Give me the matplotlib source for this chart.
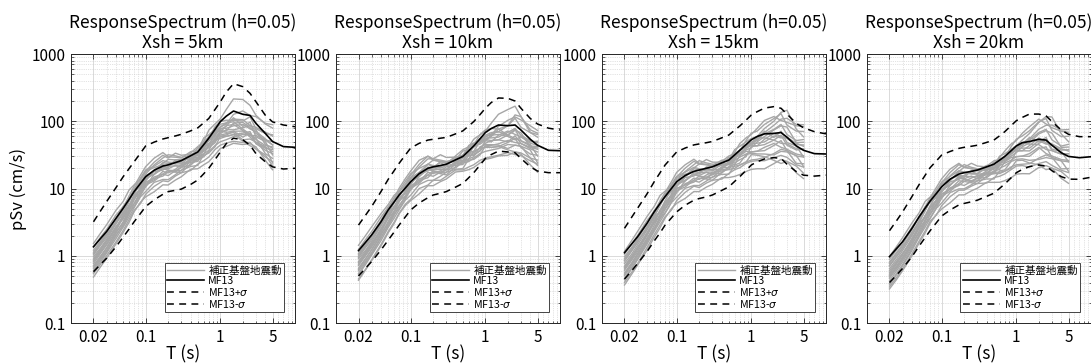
import matplotlib
matplotlib.use("Agg")
import matplotlib.pyplot as plt
from matplotlib.ticker import LogLocator, FixedLocator, FixedFormatter, NullFormatter
from matplotlib.lines import Line2D
import numpy as np

plt.rcParams['font.family'] = ['Noto Sans CJK JP', 'DejaVu Sans']
plt.rcParams['mathtext.fontset'] = 'dejavusans'

# ---------------- data ----------------
PERIODS = [0.02, 0.025, 0.03, 0.04, 0.05, 0.06, 0.07, 0.085, 0.1, 0.13, 0.17, 0.2,
           0.25, 0.3, 0.4, 0.5, 0.6, 0.7, 0.85, 1.0, 1.2, 1.5, 2.0, 2.5, 3.0, 4.0,
           5.0, 7.0, 10.0]
N_RECORD_PERIODS = 27  # records are given from 0.02 s to 5 s

TITLE_MAIN = "ResponseSpectrum (h=0.05)"
DISTANCES = ["Xsh = 5km", "Xsh = 10km", "Xsh = 15km", "Xsh = 20km"]

X_TICKS = [0.02, 0.1, 1, 5]
X_TICK_LABELS = ["0.02", "0.1", "1", "5"]
Y_TICKS = [0.1, 1, 10, 100, 1000]
Y_TICK_LABELS = ["0.1", "1", "10", "100", "1000"]

LEGEND_LABELS = ["補正基盤地震動", "MF13", "MF13+$\\sigma$", "MF13-$\\sigma$"]

# MF13 mean and +/- sigma (pSv, cm/s)
MEAN_5 = [1.36, 1.82, 2.3, 3.6, 5.1, 6.9, 9, 11.9, 15, 18.7, 21.6, 22.5, 24.3, 26, 30.7,
          35, 45, 56, 76, 99, 119, 142, 127, 122, 93, 66, 50, 42, 41]
PLUS_5 = [3.2, 4.7, 6.4, 10.3, 15, 19.8, 25, 33.5, 43, 49, 54.5, 57, 60.5, 64, 72, 80,
          95, 110, 150, 195, 272, 362, 327, 260, 195, 123, 98, 88, 83]
MINUS_5 = [0.58, 0.75, 0.92, 1.36, 1.9, 2.5, 3.2, 4.25, 5.4, 6.8, 8.2, 9.0, 9.4, 9.8,
           11.5, 13.4, 16.6, 20, 27, 35, 46.5, 56, 53, 44, 33, 25, 21, 19.5, 20]

MEAN_10 = [1.19, 1.6, 2.04, 3.2, 4.8, 6.3, 8.0, 10.2, 12.6, 16.6, 20, 21, 22, 23, 26.7,
           30, 36.4, 43, 55, 68, 78, 88, 86, 88, 74, 54, 44, 37, 36.5]
PLUS_10 = [2.86, 4.05, 5.4, 9.0, 13.7, 18.4, 23.7, 31.6, 40, 47, 52.5, 54, 56, 57.5, 65,
           72, 85.5, 99, 126, 156, 190, 222, 219, 200, 156, 110, 91, 79, 74]
MINUS_10 = [0.5, 0.66, 0.82, 1.22, 1.71, 2.25, 2.86, 3.8, 4.8, 6.1, 7.3, 8.0, 8.5, 9.0,
            10.5, 11.9, 14.5, 17.2, 22.4, 28, 32, 36, 35, 34, 28, 21, 18.2, 17.2, 17.2]

MEAN_15 = [1.11, 1.5, 1.92, 3.03, 4.5, 6.0, 7.6, 10, 12.6, 15.6, 18, 18.8, 20, 21, 24,
           26.5, 31.7, 37, 45, 53, 59.5, 65, 66, 68, 58, 43, 37, 33, 32.6]
PLUS_15 = [2.56, 3.75, 5.1, 8.3, 12.6, 17.2, 22.4, 28.5, 35, 40, 44.5, 46, 48, 50, 56.6,
           62.5, 74, 85, 104, 124, 139, 157, 165, 156, 128, 93, 80, 70, 65]
MINUS_15 = [0.45, 0.6, 0.77, 1.15, 1.66, 2.2, 2.86, 3.65, 4.5, 5.65, 6.7, 7.1, 7.5, 8.0,
            9.35, 10.6, 12.8, 15, 18.6, 22.4, 25, 27.5, 28.8, 28, 23, 17.8, 15.8, 15.3, 15.8]

MEAN_20 = [0.97, 1.29, 1.62, 2.56, 3.8, 5.1, 6.5, 8.45, 10.6, 13.8, 16.4, 17.2, 18, 18.8,
           21, 23, 26.5, 30, 36.4, 43, 48, 50, 54, 52.5, 44, 34, 30, 28.7, 29.7]
PLUS_20 = [2.36, 3.35, 4.5, 7.6, 11.5, 15.7, 20.4, 25.8, 31.5, 35.6, 39.5, 41, 42.5, 44,
           48.5, 52.5, 61, 70, 86, 102, 114, 128, 128, 120, 99, 74, 64, 59, 59]
MINUS_20 = [0.40, 0.52, 0.65, 0.97, 1.4, 1.86, 2.36, 3.1, 3.9, 4.8, 5.7, 6.0, 6.35, 6.7,
            7.65, 8.5, 10.1, 11.7, 14.4, 17.2, 19.2, 21.2, 22.4, 21.6, 18.4, 15, 13.8, 13.7, 14.7]

# corrected bedrock records: deviation from MF13 in hundredths of log10 units
REC_DEV_5 = [
    [-40,-38,-36,-35,-33,-30,-28,-30,-26,-24,-22,-25,-20,-18,-22,-18,-24,-28,-30,-35,-40,-45,-42,-40,-38,-35,-30],
    [-30,-28,-25,-22,-20,-15,-18,-12,-10,-14,-8,-12,-10,-6,-10,-14,-8,-12,-18,-22,-28,-30,-25,-32,-28,-20,-15],
    [-20,-18,-15,-12,-16,-10,-6,-8,-4,0,5,2,-2,-5,0,-4,-8,-2,-6,-10,-18,-22,-15,-20,-12,-8,-5],
    [-10,-8,-6,-4,-2,5,8,12,15,18,20,12,8,4,6,2,10,5,0,-4,-10,-12,-8,-15,-6,2,8],
    [5,8,10,12,10,14,10,6,8,4,2,-2,-5,-8,-4,0,5,12,8,4,10,18,22,15,12,14,20],
    [-25,-22,-20,-18,-14,-16,-10,-14,-8,-12,-15,-10,-14,-18,-12,-8,-14,-10,-15,-25,-30,-35,-28,-24,-30,-25,-18],
    [-35,-32,-30,-26,-24,-20,-22,-18,-15,-10,-12,-16,-12,-15,-8,-12,-18,-20,-24,-30,-35,-38,-30,-28,-22,-30,-25],
    [-15,-14,-12,-8,-6,-10,-4,0,4,8,12,15,10,5,0,-5,-2,-8,-12,-18,-20,-28,-20,-15,-10,-16,-10],
    [-45,-42,-40,-38,-36,-34,-30,-28,-30,-32,-28,-30,-26,-24,-20,-25,-30,-35,-38,-40,-45,-48,-45,-42,-35,-40,-42],
    [-5,-4,-2,0,3,0,4,8,10,6,8,4,0,-2,4,8,4,2,-4,-8,-12,-5,5,0,10,15,25],
    [-28,-26,-24,-20,-22,-18,-12,-8,-14,-6,-2,-6,-4,-10,-6,-2,-10,-14,-20,-14,-22,-18,-12,-18,-15,-10,-5],
    [-18,-16,-14,-16,-12,-8,-12,-6,-2,-6,0,-4,4,2,-2,6,0,-4,-8,-12,-15,-10,-18,-10,-20,-12,-20],
    [-12,-10,-9,-6,-8,-3,0,-4,2,-2,4,8,4,0,-4,-8,-4,-10,-6,-14,-24,-30,-34,-26,-30,-22,-12],
    [-38,-35,-32,-30,-28,-26,-24,-20,-22,-18,-20,-22,-18,-14,-16,-20,-14,-18,-14,-20,-26,-32,-38,-35,-28,-20,-32],
    [-22,-20,-18,-14,-10,-12,-8,-10,-6,-2,-6,-2,2,-4,-8,-4,2,0,-2,-8,-10,-16,-22,-28,-24,-18,-8],
    [0,2,3,5,2,4,0,-4,-2,-6,-4,-8,-12,-10,-6,-10,-4,0,4,0,-6,-14,-10,-2,-8,0,10],
    [-32,-30,-28,-25,-26,-22,-18,-16,-12,-16,-12,-8,-14,-10,-14,-10,-16,-22,-26,-22,-30,-35,-40,-45,-38,-32,-36],
    [-8,-6,-4,-8,-6,-2,2,4,8,12,16,10,14,8,2,0,-6,-2,-10,-16,-14,-20,-24,-30,-18,-10,0],
]
REC_DEV_10 = [
    [-42,-40,-37,-34,-32,-30,-27,-24,-26,-22,-25,-20,-22,-18,-15,-20,-24,-28,-32,-38,-42,-45,-40,-44,-38,-32,-28],
    [-28,-25,-22,-20,-17,-14,-16,-12,-8,-12,-6,-10,-8,-4,-8,-12,-6,-14,-18,-20,-25,-28,-22,-26,-20,-14,-10],
    [-18,-16,-14,-10,-12,-8,-4,-6,-2,2,6,0,-4,-2,2,-2,-6,0,-4,-8,-14,-18,-10,-5,-8,-2,4],
    [-8,-6,-4,-2,0,6,10,14,16,20,18,10,6,2,4,0,8,4,-2,-6,-8,-10,0,15,20,10,12],
    [8,10,12,12,8,10,6,4,6,2,0,-4,-6,-8,-2,2,6,10,6,2,8,16,24,28,20,14,18],
    [-22,-20,-18,-16,-12,-14,-8,-12,-6,-10,-14,-8,-12,-16,-10,-6,-12,-8,-14,-22,-28,-32,-25,-20,-26,-22,-15],
    [-34,-30,-28,-24,-22,-18,-20,-16,-12,-8,-10,-14,-10,-12,-6,-10,-16,-18,-22,-28,-32,-35,-28,-30,-24,-28,-22],
    [-12,-12,-10,-6,-4,-8,-2,2,6,10,14,12,8,4,-2,-6,-4,-10,-14,-16,-18,-22,-14,-8,-4,-12,-6],
    [-44,-41,-38,-36,-34,-32,-28,-26,-28,-30,-26,-28,-24,-22,-18,-22,-28,-32,-36,-40,-44,-46,-44,-40,-36,-38,-40],
    [-4,-2,0,2,4,2,6,10,12,8,6,2,-2,0,6,10,6,4,-2,-6,-10,-2,8,12,15,20,22],
    [-26,-24,-22,-18,-20,-16,-10,-6,-12,-4,0,-4,-2,-8,-4,0,-8,-12,-18,-12,-20,-15,-8,-14,-10,-6,0],
    [-16,-14,-12,-14,-10,-6,-10,-4,0,-4,2,-2,6,4,0,8,2,-2,-6,-10,-12,-6,-14,-6,-16,-8,-16],
    [-10,-8,-7,-4,-6,-1,2,-2,4,0,6,10,6,2,-2,-6,-2,-8,-4,-10,-18,-22,-24,-16,-20,-12,-4],
    [-36,-33,-30,-28,-26,-24,-22,-18,-20,-16,-18,-20,-16,-12,-14,-18,-12,-16,-12,-18,-24,-30,-34,-30,-24,-16,-26],
    [-20,-18,-16,-12,-8,-10,-6,-8,-4,0,-4,0,4,-2,-6,-2,4,2,0,-4,-6,-10,-14,-20,-16,-10,-2],
    [2,4,5,7,4,6,2,-2,0,-4,-2,-6,-10,-8,-4,-8,-2,2,6,4,0,-6,0,10,4,10,16],
    [-30,-28,-26,-23,-24,-20,-16,-14,-10,-14,-10,-6,-12,-8,-12,-8,-14,-20,-24,-20,-28,-32,-36,-40,-34,-28,-30],
    [-6,-4,-2,-6,-4,0,4,6,10,14,18,12,16,10,4,2,-4,0,-8,-12,-10,-14,-16,-22,-10,-4,6],
]
REC_DEV_15 = [
    [-44,-42,-40,-36,-34,-32,-30,-32,-28,-25,-22,-26,-22,-20,-24,-20,-22,-26,-28,-32,-36,-40,-36,-34,-30,-28,-25],
    [-32,-30,-26,-24,-20,-16,-18,-14,-10,-14,-10,-14,-10,-8,-12,-14,-8,-10,-14,-18,-22,-20,-15,-22,-18,-12,-8],
    [-22,-20,-16,-14,-16,-10,-8,-10,-4,-2,4,0,-4,-6,-2,-6,-8,0,-2,-6,-10,-12,-4,-8,0,4,6],
    [-12,-10,-8,-6,-4,4,6,10,14,16,18,10,6,2,4,0,8,6,4,2,0,8,18,30,40,25,20],
    [2,5,8,10,8,12,8,4,6,2,0,-4,-6,-10,-6,-2,4,10,10,8,12,20,25,18,22,30,35],
    [-26,-24,-22,-18,-16,-18,-12,-16,-10,-14,-16,-12,-16,-20,-14,-10,-14,-8,-10,-18,-22,-25,-18,-12,-20,-15,-10],
    [-38,-35,-32,-28,-26,-22,-24,-20,-16,-12,-14,-18,-14,-16,-10,-14,-20,-22,-26,-30,-34,-35,-30,-25,-20,-26,-20],
    [-16,-15,-12,-10,-8,-12,-6,-2,2,6,10,14,8,4,-2,-6,-2,-6,-8,-12,-8,-4,5,10,15,5,12],
    [-48,-45,-42,-40,-38,-36,-32,-30,-32,-34,-30,-32,-28,-26,-22,-26,-32,-36,-40,-44,-48,-52,-45,-40,-36,-40,-42],
    [-6,-5,-3,-1,2,-1,3,6,8,5,6,2,-2,-4,2,6,2,0,-2,-4,-6,2,12,20,28,32,38],
    [-30,-28,-25,-22,-24,-20,-14,-10,-15,-8,-4,-8,-6,-12,-8,-4,-12,-14,-18,-10,-14,-8,0,-6,-2,2,8],
    [-20,-18,-16,-18,-14,-10,-14,-8,-4,-8,-2,-6,2,0,-4,4,-2,-4,-6,-8,-4,4,-6,2,-8,0,-10],
    [-12,-10,-8,-5,-7,-2,1,-3,3,-1,5,9,5,1,-3,-7,-3,-8,-4,-8,-14,-16,-10,-4,-12,-6,2],
    [-40,-37,-34,-31,-29,-27,-25,-21,-23,-19,-21,-23,-19,-15,-17,-21,-15,-19,-15,-20,-26,-30,-32,-28,-22,-14,-24],
    [-24,-22,-19,-15,-11,-13,-9,-11,-7,-3,-7,-3,1,-5,-9,-5,1,-1,-1,-4,-2,-6,-10,-16,-10,-4,2],
    [-2,0,2,4,1,3,-1,-5,-3,-7,-5,-9,-13,-11,-7,-11,-5,-1,6,10,8,14,22,28,18,22,28],
    [-34,-32,-29,-26,-27,-23,-19,-17,-13,-17,-13,-9,-15,-11,-15,-11,-17,-22,-26,-22,-28,-34,-40,-46,-36,-30,-34],
    [-9,-7,-5,-9,-7,-3,1,3,7,11,15,9,13,7,1,-1,-5,0,-4,-6,-2,0,6,12,4,8,16],
]
REC_DEV_20 = [
    [-45,-43,-40,-38,-36,-34,-30,-32,-28,-26,-24,-26,-22,-20,-24,-20,-24,-26,-28,-30,-34,-38,-36,-32,-30,-26,-24],
    [-32,-30,-27,-24,-21,-17,-19,-15,-11,-15,-10,-13,-10,-8,-12,-14,-8,-10,-14,-16,-20,-18,-12,-20,-16,-10,-6],
    [-24,-21,-18,-15,-16,-11,-8,-10,-5,-2,3,0,-4,-6,-1,-5,-8,0,-2,-4,-8,-10,-2,-6,2,6,8],
    [-14,-12,-10,-7,-5,2,5,9,12,15,16,8,4,0,2,-2,6,4,2,0,4,12,25,35,42,28,22],
    [0,3,6,8,6,10,6,2,4,0,-2,-5,-8,-10,-6,-2,4,8,10,8,14,22,30,24,26,32,36],
    [-28,-26,-23,-20,-17,-19,-13,-17,-11,-15,-17,-13,-17,-20,-14,-10,-14,-8,-10,-16,-20,-22,-14,-10,-18,-12,-8],
    [-40,-37,-34,-30,-27,-23,-25,-21,-17,-13,-15,-19,-15,-16,-10,-14,-20,-22,-24,-28,-32,-33,-28,-22,-18,-24,-18],
    [-18,-16,-13,-11,-9,-13,-7,-3,1,5,9,12,6,2,-3,-7,-3,-6,-8,-10,-6,-2,8,14,18,8,14],
    [-48,-46,-43,-41,-39,-37,-33,-31,-33,-35,-31,-33,-29,-27,-23,-27,-33,-36,-40,-42,-46,-48,-42,-38,-34,-38,-40],
    [-8,-6,-4,-2,1,-2,2,5,7,4,5,1,-3,-5,1,5,1,0,-2,-2,-4,4,15,22,30,34,40],
    [-30,-28,-25,-23,-24,-20,-15,-11,-16,-9,-5,-9,-7,-13,-9,-5,-12,-14,-16,-8,-12,-6,2,-4,0,4,10],
    [-21,-19,-17,-19,-15,-11,-15,-9,-5,-9,-3,-7,1,-1,-5,3,-2,-4,-5,-6,-2,6,-4,4,-6,2,-8],
    [-13,-11,-9,-6,-8,-3,0,-4,2,-2,4,8,4,0,-4,-8,-4,-8,-4,-6,-12,-14,-6,0,-8,-2,4],
    [-42,-39,-36,-33,-30,-28,-26,-22,-24,-20,-22,-24,-20,-16,-18,-22,-16,-20,-16,-20,-24,-28,-30,-26,-20,-12,-22],
    [-26,-23,-20,-16,-12,-14,-10,-12,-8,-4,-8,-4,0,-6,-10,-6,0,-2,0,-2,0,-4,-8,-14,-8,-2,4],
    [-4,-2,0,2,0,2,-2,-6,-4,-8,-6,-10,-14,-12,-8,-12,-6,-2,6,10,10,16,26,32,22,24,30],
    [-36,-33,-30,-27,-28,-24,-20,-18,-14,-18,-14,-10,-16,-12,-16,-12,-18,-22,-26,-22,-26,-32,-38,-44,-34,-28,-32],
    [-10,-8,-6,-10,-8,-4,0,2,6,10,14,8,12,6,0,-2,-6,0,-4,-4,0,2,10,16,8,10,18],
]

MEANS = [MEAN_5, MEAN_10, MEAN_15, MEAN_20]
PLUSES = [PLUS_5, PLUS_10, PLUS_15, PLUS_20]
MINUSES = [MINUS_5, MINUS_10, MINUS_15, MINUS_20]
RECORDS = [REC_DEV_5, REC_DEV_10, REC_DEV_15, REC_DEV_20]

# ---------------- figure ----------------
GRAY = '#a6a6a6'
DASH = (0, (4.5, 3.5))

fig = plt.figure(figsize=(10.91, 3.64), dpi=100)
lefts = [0.0651, 0.3080, 0.5518, 0.7947]
bottom, width, height = 0.1126, 0.2053, 0.739

T = np.array(PERIODS)
for i in range(4):
    ax = fig.add_axes([lefts[i], bottom, width, height])
    mean = np.array(MEANS[i])
    for dev in RECORDS[i]:
        vals = mean[:N_RECORD_PERIODS] * 10.0 ** (np.array(dev) / 100.0)
        ax.plot(T[:N_RECORD_PERIODS], vals, color=GRAY, lw=1.0, zorder=2)
    ax.plot(T, mean, color='black', lw=1.2, zorder=4)
    ax.plot(T, PLUSES[i], color='black', lw=1.1, ls=DASH, zorder=4)
    ax.plot(T, MINUSES[i], color='black', lw=1.1, ls=DASH, zorder=4)

    ax.set_xscale('log')
    ax.set_yscale('log')
    ax.set_xlim(0.01, 10)
    ax.set_ylim(0.1, 1000)
    ax.xaxis.set_major_locator(FixedLocator(X_TICKS))
    ax.xaxis.set_major_formatter(FixedFormatter(X_TICK_LABELS))
    ax.xaxis.set_minor_locator(LogLocator(base=10, subs=np.arange(2, 10)))
    ax.xaxis.set_minor_formatter(NullFormatter())
    ax.yaxis.set_major_locator(FixedLocator(Y_TICKS))
    ax.yaxis.set_major_formatter(FixedFormatter(Y_TICK_LABELS))
    ax.yaxis.set_minor_locator(LogLocator(base=10, subs=np.arange(2, 10)))
    ax.yaxis.set_minor_formatter(NullFormatter())

    ax.grid(True, which='major', color='#d4d4d4', lw=0.6, ls='-', zorder=0)
    ax.grid(True, which='minor', color='#c8c8c8', lw=0.5, ls=':', zorder=0)
    ax.set_axisbelow(True)
    ax.tick_params(which='both', direction='in', top=True, right=True,
                   labelsize=11, colors='#262626', labelcolor='black')
    ax.tick_params(which='major', length=3.5, width=0.6, pad=4)
    ax.tick_params(which='minor', length=1.8, width=0.5)
    for sp in ax.spines.values():
        sp.set_color('#262626')
        sp.set_linewidth(0.7)

    ax.set_title(TITLE_MAIN + "\n" + DISTANCES[i], fontsize=12.5, pad=4, linespacing=1.15)
    ax.set_xlabel("T (s)", fontsize=12.5, labelpad=0)
    if i == 0:
        ax.set_ylabel("pSv (cm/s)", fontsize=12, labelpad=3)

    handles = [Line2D([], [], color=GRAY, lw=1.0),
               Line2D([], [], color='black', lw=1.2),
               Line2D([], [], color='black', lw=1.1, ls=DASH),
               Line2D([], [], color='black', lw=1.1, ls=DASH)]
    leg = ax.legend(handles, LEGEND_LABELS, loc='lower right', fontsize=7.6,
                    frameon=True, fancybox=False, edgecolor='#262626', framealpha=1,
                    handlelength=3.5, borderpad=0.25, labelspacing=0.0,
                    handletextpad=0.4, borderaxespad=1.0)
    leg.get_frame().set_linewidth(0.6)
    leg.set_zorder(10)

fig.savefig("out.png", dpi=100)
